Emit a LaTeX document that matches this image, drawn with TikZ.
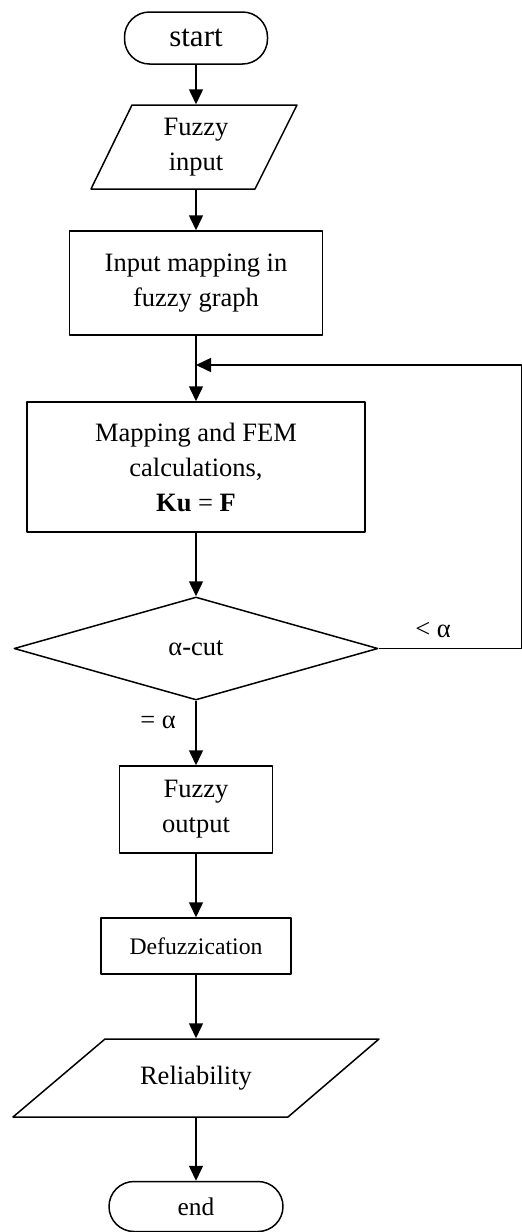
\documentclass[tikz,border=0pt]{standalone}
\usepackage{fontspec}
\setmainfont{Liberation Serif}
\usetikzlibrary{arrows.meta,shapes.geometric}

\begin{document}
\begin{tikzpicture}[x=0.5pt, y=-0.5pt, line width=0.75pt, line join=round,
  box/.style={draw, rectangle, align=center, inner sep=0pt, font=\fontsize{13.25}{17.5}\selectfont},
  term/.style={draw, rectangle, rounded corners=12.5pt, inner sep=0pt},
  txt/.style={align=center, inner sep=0pt, font=\fontsize{13.25}{17.5}\selectfont},
  flow/.style={-{Triangle[length=7.5pt,width=7pt]}}]
\useasboundingbox (0,0) rectangle (521,1232);

\node[term, minimum width=71.5pt, minimum height=26pt, font=\fontsize{15.5}{18}\selectfont] (start) at (196,38) {start};

\path[draw] (132,105) -- (297,105) -- (255,189) -- (91,189) -- cycle;
\node[txt, minimum height=42pt] (fin) at (196,147) {Fuzzy\\input};

\node[box, minimum width=126.5pt, minimum height=52pt] (map1) at (196,283) {Input mapping in\\fuzzy graph};

\node[box, minimum width=169pt, minimum height=65pt] (map2) at (196,467) {Mapping and FEM\\calculations,\\\textbf{Ku} = \textbf{F}};

\node[draw, diamond, aspect=3.5, inner sep=0pt, minimum width=182pt, minimum height=51.5pt, font=\fontsize{13.25}{17.5}\selectfont] (dia) at (196,648.5) {α-cut};

\node[box, minimum width=76.5pt, minimum height=43.5pt] (fout) at (196,809.5) {Fuzzy\\output};

\node[box, minimum width=95pt, minimum height=28pt, font=\fontsize{11.85}{14}\selectfont] (defuzz) at (196,946) {Defuzzication};

\path[draw] (105,1039) -- (379,1039) -- (288,1117) -- (13,1117) -- cycle;
\node[txt, minimum height=39pt] (rel) at (196,1078) {Reliability};

\node[term, minimum width=87pt, minimum height=25pt, font=\fontsize{12.7}{15}\selectfont] (end) at (196,1206.5) {end};

\node[txt] (less) at (433,630) {< α};
\node[txt] (equal) at (158,722) {= α};

\coordinate (join) at (196,365);
\coordinate (edge) at (521.5,365);

\draw[flow] (start.south) -- (fin.north);
\draw[flow] (fin.south) -- (map1.north);
\draw[flow] (map1.south) -- (map2.north);
\draw[flow] (map2.south) -- (dia.north);
\draw[flow] (dia.east) -| (edge) -- (join);
\draw[flow] (dia.south) -- (fout.north);
\draw[flow] (fout.south) -- (defuzz.north);
\draw[flow] (defuzz.south) -- (rel.north);
\draw[flow] (rel.south) -- (end.north);

\end{tikzpicture}
\end{document}
